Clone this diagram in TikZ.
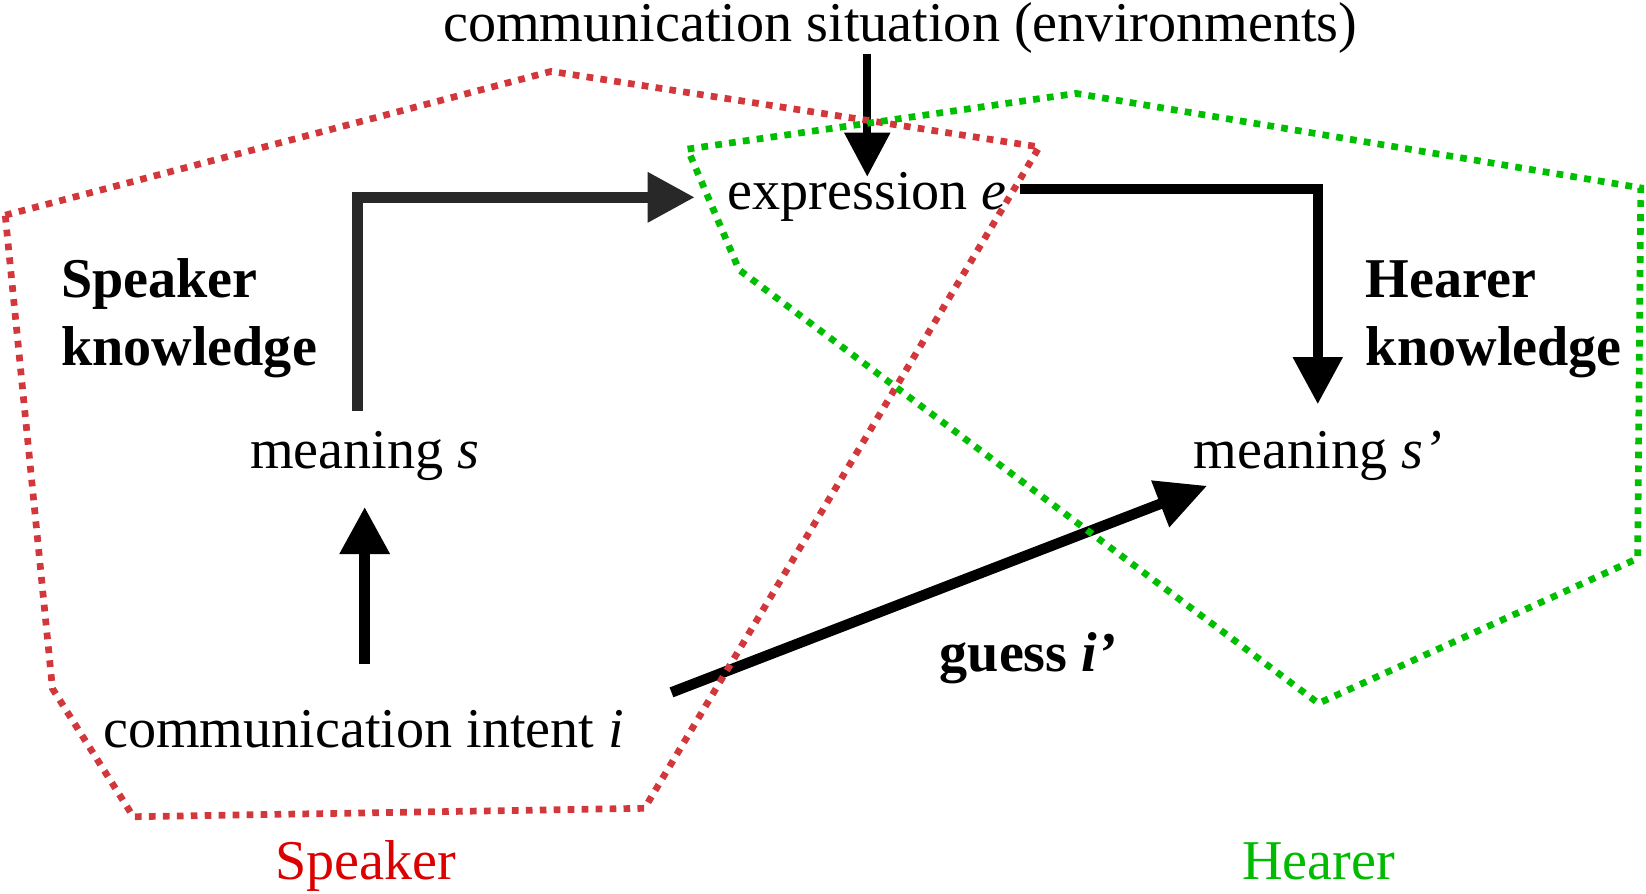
\documentclass[tikz,border=0pt]{standalone}
\usepackage{fontspec}
\setmainfont{Liberation Serif}
\usetikzlibrary{arrows.meta}
\definecolor{spkdot}{HTML}{D2373C}
\definecolor{hrdot}{HTML}{00BE00}
\definecolor{spktxt}{HTML}{DD0000}
\definecolor{hrtxt}{HTML}{00BB00}
\definecolor{darkarrow}{HTML}{282828}
\begin{document}
\begin{tikzpicture}[x=1pt,y=-1pt,
  txt/.style={anchor=base west, inner sep=0pt, font=\fontsize{53.5}{65}\selectfont},
  btxt/.style={anchor=base west, inner sep=0pt, font=\fontsize{53.5}{65}\selectfont\bfseries, align=left},
  arr/.style={line join=miter, -{Triangle[length=45pt,width=45pt]}},
  dotline/.style={line width=6.4pt, dash pattern=on 6.4pt off 6.9pt},
  spkline/.style={dotline, draw=spkdot},
  hrline/.style={dotline, draw=hrdot}
]
\useasboundingbox (0,0) rectangle (1568,851);

% texts
\node[txt] (sit) at (422,40) {communication situation (environments)};
\node[txt] (expr) at (693,200) {expression \textit{e}};
\node[btxt] (spk) at (58,348) {Speaker\\knowledge};
\node[btxt] (hr) at (1301,348) {Hearer\\knowledge};
\node[txt] (ms) at (238,446) {meaning \textit{s}};
\node[txt] (ms2) at (1137,446) {meaning \textit{s’}};
\node[btxt] (guess) at (895,640) {guess \textit{i’}};
\node[txt] (ci) at (98,712) {communication intent \textit{i}};
\node[txt, text=spktxt] (spkl) at (262,838) {Speaker};
\node[txt, text=hrtxt] (hrl) at (1183,838) {Hearer};

% arrows
\draw[arr, line width=11pt, color=darkarrow, shorten <=18.5pt, shorten >=31pt]
  ([xshift=-7pt]ms.north) |- (expr.west);
\draw[arr, line width=8pt, -{Triangle[length=42pt,width=42pt]}, shorten >=-4pt]
  (sit.south -| expr.north) -- (expr.north);
\draw[arr, line width=10pt, shorten <=12pt, shorten >=25pt]
  ([yshift=8pt]expr.east) -| (ms2.north);
\draw[arr, line width=11pt, shorten <=43.5pt, shorten >=25pt]
  (ci.north -| ms.south) -- (ms.south);
\draw[arr, line width=10pt, -{Triangle[length=48pt,width=45pt]}]
  ([xshift=45pt,yshift=35pt]ci.east) -- ([xshift=13pt,yshift=-5pt]ms2.south west);

% speaker and hearer regions
\draw[spkline] (5,205) -- (525,68) -- (990,140) -- (614,770) -- (127,778) -- (50,656) -- cycle;
\draw[hrline] (655,142) -- (1025,89) -- (1563,179) -- (1560,532) -- (1256,670) -- (704,257) -- cycle;
\end{tikzpicture}
\end{document}
